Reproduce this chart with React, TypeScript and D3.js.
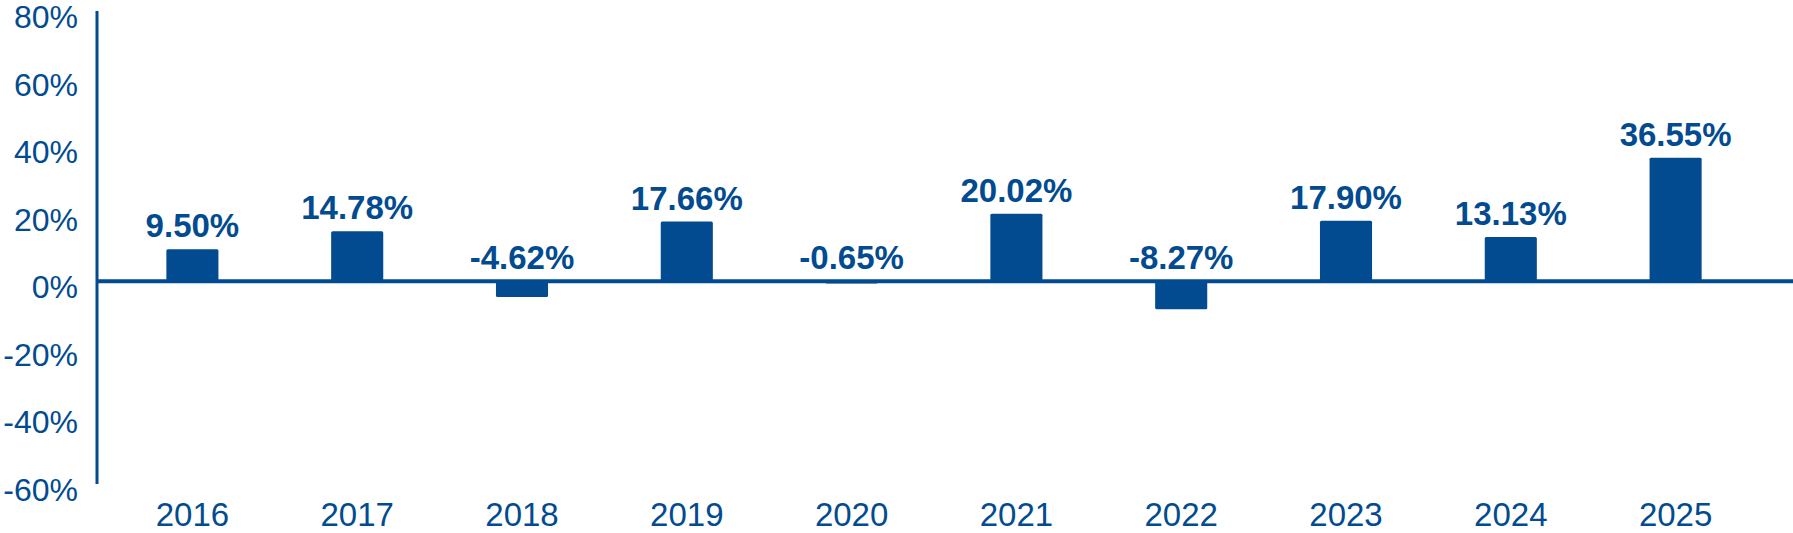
import { useEffect, useRef } from 'react'
import * as d3 from 'd3'

const years = ['2016', '2017', '2018', '2019', '2020', '2021', '2022', '2023', '2024', '2025']
const returns = [9.5, 14.78, -4.62, 17.66, -0.65, 20.02, -8.27, 17.9, 13.13, 36.55]
const yTicks = [-60, -40, -20, 0, 20, 40, 60, 80]

const WIDTH = 1793
const HEIGHT = 533
const BLUE = '#024b90'
const FONT = '"Liberation Sans", Arial, Helvetica, sans-serif'

export default function App() {
  const svgRef = useRef<SVGSVGElement>(null)

  useEffect(() => {
    if (!svgRef.current) return
    const svg = d3.select(svgRef.current)
    svg.selectAll('*').remove()

    const x = d3.scaleBand<string>()
      .domain(years)
      .range([110, 1758])
      .paddingInner(0.684)
      .paddingOuter(0.342)

    const y = d3.scaleLinear().domain([-60, 80]).range([484, 11])
    const axisX = 97

    // y tick labels (no tick marks in the original)
    svg.append('g')
      .selectAll('text')
      .data(yTicks)
      .join('text')
      .attr('x', 78)
      .attr('y', d => y(d) + 17)
      .attr('text-anchor', 'end')
      .attr('font-family', FONT)
      .attr('font-size', 32)
      .attr('fill', BLUE)
      .text(d => `${d}%`)

    const data = years.map((yr, i) => ({ yr, v: returns[i] }))

    svg.append('g')
      .selectAll('rect')
      .data(data)
      .join('rect')
      .attr('x', d => x(d.yr)!)
      .attr('y', d => y(Math.max(0, d.v)))
      .attr('width', x.bandwidth())
      .attr('height', d => Math.abs(y(d.v) - y(0)))
      .attr('rx', 1.5)
      .attr('fill', BLUE)

    // value labels sit above the bar, or above the zero line for negatives
    svg.append('g')
      .selectAll('text')
      .data(data)
      .join('text')
      .attr('x', d => x(d.yr)! + x.bandwidth() / 2)
      .attr('y', d => y(Math.max(0, d.v)) - 12)
      .attr('text-anchor', 'middle')
      .attr('font-family', FONT)
      .attr('font-weight', 'bold')
      .attr('font-size', 33)
      .attr('fill', BLUE)
      .text(d => `${d.v.toFixed(2)}%`)

    // year labels
    svg.append('g')
      .selectAll('text')
      .data(years)
      .join('text')
      .attr('x', d => x(d)! + x.bandwidth() / 2)
      .attr('y', 526)
      .attr('text-anchor', 'middle')
      .attr('font-family', FONT)
      .attr('font-size', 33)
      .attr('fill', BLUE)
      .text(d => d)

    svg.append('line')
      .attr('x1', axisX).attr('x2', WIDTH)
      .attr('y1', y(0)).attr('y2', y(0))
      .attr('stroke', BLUE)
      .attr('stroke-width', 4)

    svg.append('line')
      .attr('x1', axisX).attr('x2', axisX)
      .attr('y1', y(80)).attr('y2', y(-60))
      .attr('stroke', BLUE)
      .attr('stroke-width', 3)
  }, [])

  return (
    <svg
      ref={svgRef}
      width={WIDTH}
      height={HEIGHT}
      style={{ position: 'absolute', left: 0, top: 0, display: 'block', background: '#fff' }}
    />
  )
}
